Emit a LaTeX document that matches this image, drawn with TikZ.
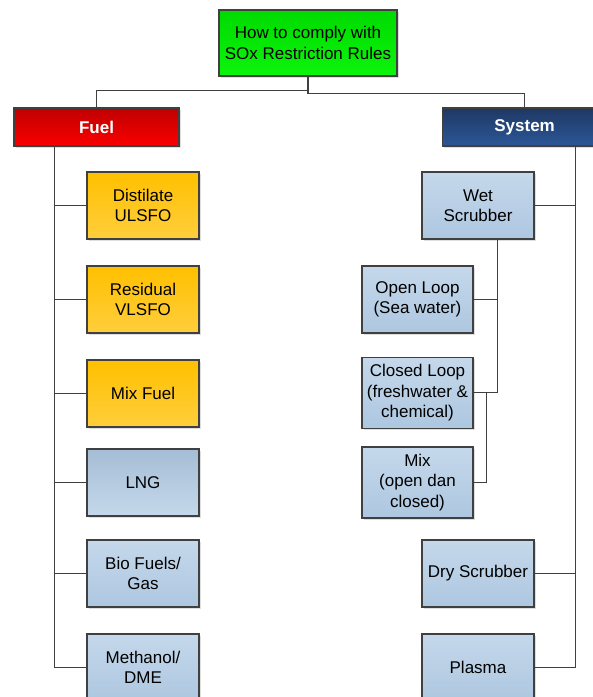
\documentclass[tikz,border=0pt]{standalone}
\usepackage{fontspec}
\setmainfont{Liberation Sans}
\usetikzlibrary{shadows}
\definecolor{edge}{HTML}{404040}
\definecolor{gtop}{HTML}{00DA00}
\definecolor{gbot}{HTML}{0CF50C}
\definecolor{rtop}{HTML}{C00000}
\definecolor{rbot}{HTML}{FA0000}
\definecolor{btop}{HTML}{1F3864}
\definecolor{bbot}{HTML}{2B5797}
\definecolor{otop}{HTML}{FFC000}
\definecolor{obot}{HTML}{FFCE3C}
\definecolor{ltop}{HTML}{C5D8EB}
\definecolor{lbot}{HTML}{ADC7E0}
\begin{document}
\begin{tikzpicture}[x=1pt,y=1pt,
  base/.style={draw=edge, line width=1.2pt, align=center, inner sep=1pt,
    font=\fontsize{17}{20.5}\selectfont,
    general shadow={fill=black!13, shadow xshift=2pt, shadow yshift=-2pt}},
  box/.style={base, minimum width=112pt, minimum height=67pt},
  orangebox/.style={box, top color=otop, bottom color=obot},
  bluebox/.style={box, top color=ltop, bottom color=lbot},
  lngbox/.style={box, top color=lbot!95!black, bottom color=ltop},
  headbox/.style={base, minimum width=165pt, minimum height=38pt, text=white,
    font=\fontsize{17}{20.5}\selectfont\bfseries},
  wire/.style={draw=edge, line width=1.2pt}]
\useasboundingbox (0,0) rectangle (593,-697);

\node[base, minimum width=178pt, minimum height=66pt, top color=gtop, bottom color=gbot]
  (top) at (308,-43) {How to comply with\\SOx Restriction Rules};
\node[headbox, top color=rtop, bottom color=rbot] (fuel) at (96.5,-127) {Fuel};
\node[headbox, top color=btop, bottom color=bbot] (system) at (524.6,-127) {System};

% Fuel column
\node[orangebox] (dist) at (143,-205.5) {Distilate\\ULSFO};
\node[orangebox] (resid) at (143,-299.5) {Residual\\VLSFO};
\node[orangebox] (mixf) at (143,-393.5) {Mix Fuel};
\node[lngbox] (lng) at (143,-482.5) {LNG};
\node[bluebox] (bio) at (143,-573.5) {Bio Fuels/\\Gas};
\node[bluebox] (meth) at (143,-667.5) {Methanol/\\DME};

% System column
\node[bluebox] (wet) at (478,-205.5) {Wet\\Scrubber};
\node[bluebox, minimum width=111pt] (open) at (417.5,-299.5) {Open Loop\\(Sea water)};
\node[bluebox, minimum width=111pt, minimum height=71pt] (closed) at (417.5,-392.7) {Closed Loop\\(freshwater \&\\chemical)};
\node[bluebox, minimum width=111pt, minimum height=71pt] (mixs) at (417.5,-482.5) {Mix\\(open dan\\closed)};
\node[bluebox] (dry) at (478,-573.5) {Dry Scrubber};
\node[bluebox] (plasma) at (478,-667.5) {Plasma};

% top connectors
\coordinate (ly) at (0,-90.7);
\coordinate (ry) at (0,-93.3);
\draw[wire] (top.south) -- (top.south |- ry) -| (system.north);
\draw[wire] (top.south |- ly) -| (fuel.north);

% fuel trunk
\coordinate (ft) at (54.8,0);
\draw[wire] (ft |- fuel.south) -- (ft |- meth.west) -- (meth.west);
\foreach \n in {dist,resid,mixf,lng,bio}
  \draw[wire] (ft |- \n.west) -- (\n.west);

% system trunk
\coordinate (st) at (575.6,0);
\draw[wire] (st |- system.south) -- (st |- plasma.east) -- (plasma.east);
\foreach \n in {wet,dry}
  \draw[wire] (st |- \n.east) -- (\n.east);

% wet scrubber sub-tree
\coordinate (wx) at (497.7,0);
\draw[wire] (wx |- wet.south) -- (wx |- closed.east) -- (closed.east);
\draw[wire] (wx |- open.east) -- (open.east);
\coordinate (mx) at (486.7,0);
\draw[wire] (mx |- closed.east) -- (mx |- mixs.east) -- (mixs.east);
\end{tikzpicture}
\end{document}
